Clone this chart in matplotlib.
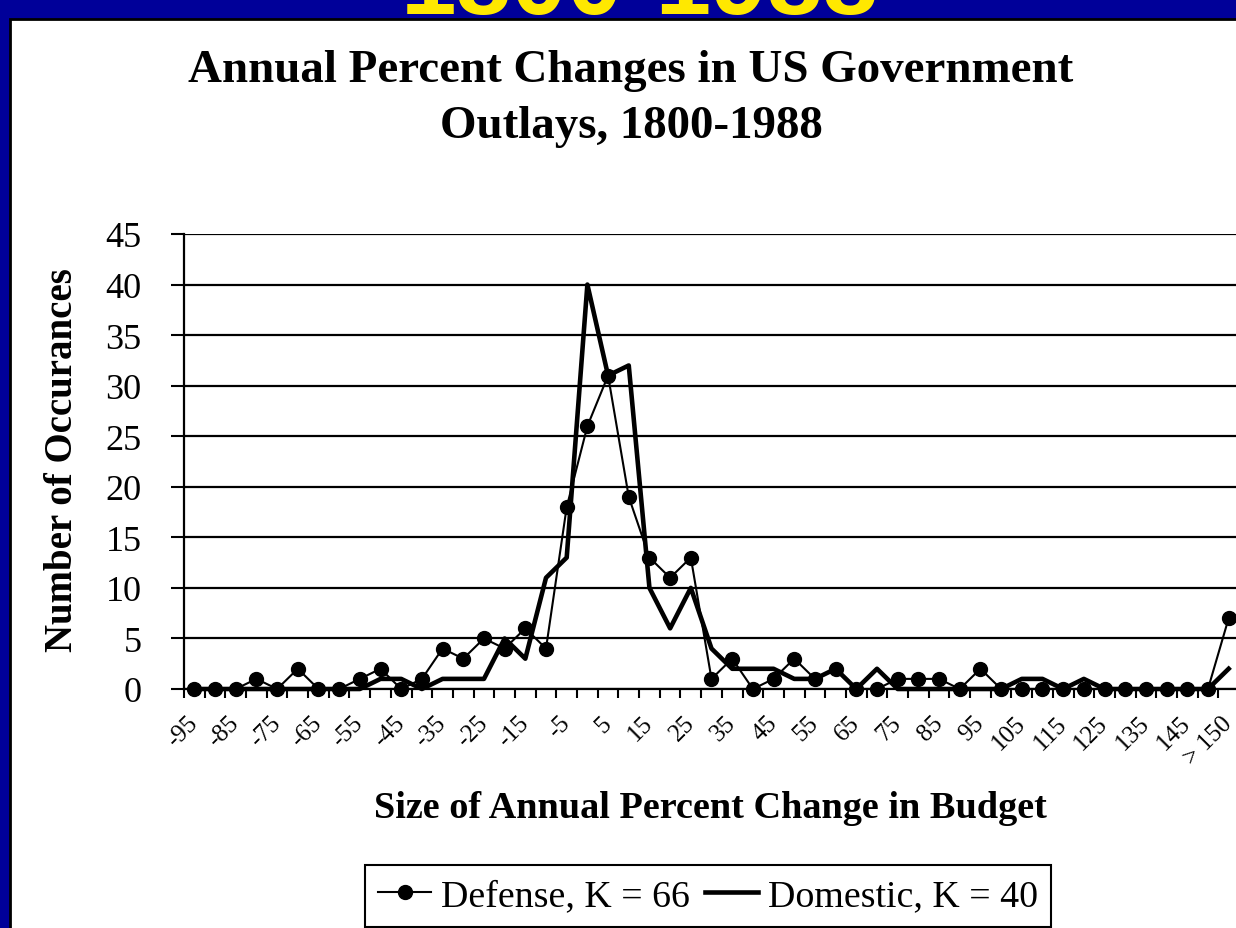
import numpy as np
import matplotlib
matplotlib.use('Agg')
import matplotlib.pyplot as plt
from matplotlib.patches import Rectangle

plt.rcParams['font.family'] = ['Liberation Serif', 'DejaVu Serif']

# percent-change bins, every 5 points, with an open bin at the top
categories = [str(v) for v in range(-95, 151, 5)] + ['> 150']

defense = [0, 0, 0, 1, 0, 2, 0, 0, 1, 2,
           0, 1, 4, 3, 5, 4, 6, 4, 18, 26,
           31, 19, 13, 11, 13, 1, 3, 0, 1, 3,
           1, 2, 0, 0, 1, 1, 1, 0, 2, 0,
           0, 0, 0, 0, 0, 0, 0, 0, 0, 0,
           7]

domestic = [0, 0, 0, 0, 0, 0, 0, 0, 0, 1,
            1, 0, 1, 1, 1, 5, 3, 11, 13, 40,
            31, 32, 10, 6, 10, 4, 2, 2, 2, 1,
            1, 2, 0, 2, 0, 0, 0, 0, 0, 0,
            1, 1, 0, 1, 0, 0, 0, 0, 0, 0,
            2]

y_ticks = list(range(0, 46, 5))

W, H = 1236, 929
fig = plt.figure(figsize=(W / 100, H / 100), dpi=100)
fig.patch.set_facecolor('#000099')

# slide banner peeking in at the top
fig.text(640 / W, 1 - 14 / H, '1800-1988', family='Liberation Sans', weight='bold',
         fontsize=72, color='#FFE800', ha='center', va='baseline', zorder=0)

# white slide panel
fig.add_artist(Rectangle((10 / W, -0.01), 1.02, (H - 20) / H + 0.01,
                         transform=fig.transFigure, facecolor='white',
                         edgecolor='black', lw=2, zorder=1))

fig.text(631 / W, 1 - 99 / H, 'Annual Percent Changes in US Government\nOutlays, 1800-1988',
         ha='center', va='center', fontsize=33.8, weight='bold', linespacing=1.42, zorder=3)

ax = fig.add_axes([184 / W, (H - 690) / H, (1239 - 184) / W, 455 / H], zorder=3)
ax.set_facecolor('none')

x = np.arange(len(categories))
ax.plot(x, defense, color='black', lw=1.5, marker='o', ms=10,
        label='Defense, K = 66', clip_on=False, zorder=4)
ax.plot(x, domestic, color='black', lw=3.3, label='Domestic, K = 40',
        clip_on=False, zorder=5)

ax.set_xlim(-0.5, len(categories) - 0.5)
ax.set_ylim(0, 45)

ax.set_yticks(y_ticks)
ax.set_yticklabels([str(v) for v in y_ticks], fontsize=26)
ax.yaxis.grid(True, color='black', lw=1.6)
ax.set_axisbelow(True)
ax.tick_params(axis='y', length=9.5, width=1.5, pad=21)

# ticks on bin edges, labels on every other bin
ax.set_xticks(np.arange(-0.5, len(categories), 1))
ax.set_xticklabels([])
ax.tick_params(axis='x', which='major', length=6.5, width=1.5)
ax.set_xticks(x[::2], minor=True)
ax.set_xticklabels(categories[::2], minor=True, fontsize=18, rotation=45,
                   ha='right', va='center', rotation_mode='anchor')
ax.tick_params(axis='x', which='minor', length=0, pad=22)

for s in ['top', 'right']:
    ax.spines[s].set_visible(False)
for s in ['left', 'bottom']:
    ax.spines[s].set_linewidth(1.6)
    ax.spines[s].set_color('black')

fig.text(710 / W, 1 - 808 / H, 'Size of Annual Percent Change in Budget',
         ha='center', va='center', fontsize=27.5, weight='bold', zorder=3)
fig.text(63 / W, 1 - 460 / H, 'Number of Occurances', rotation=90,
         ha='center', va='center', fontsize=28, weight='bold', zorder=3)

leg = fig.legend(loc='center', bbox_to_anchor=(708 / W, 1 - 897 / H), ncol=2,
                 fontsize=27.3, frameon=True, fancybox=False, edgecolor='black',
                 framealpha=1, handlelength=1.4, handletextpad=0.25,
                 columnspacing=0.4, borderpad=0.35, borderaxespad=0)
leg.get_frame().set_linewidth(1.5)
leg.set_zorder(6)

fig.savefig('out.png', dpi=100, facecolor=fig.get_facecolor())
